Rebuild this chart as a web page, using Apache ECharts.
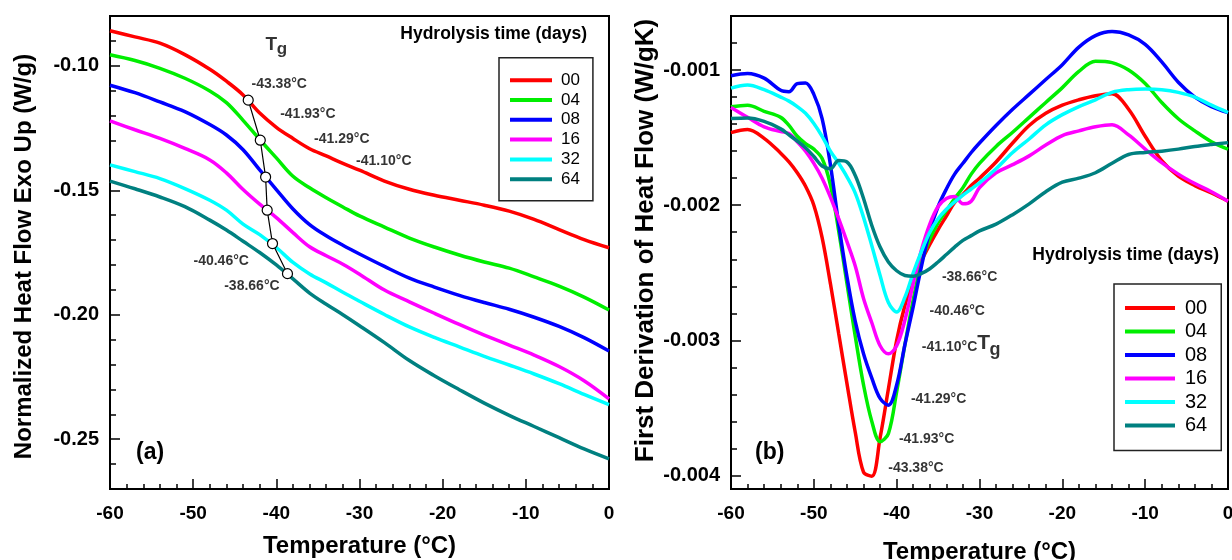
<!DOCTYPE html>
<html><head><meta charset="utf-8">
<script src="https://cdn.jsdelivr.net/npm/echarts@6/dist/echarts.min.js"></script>
<style>html,body{margin:0;padding:0;background:#fff}#c{width:1232px;height:560px}</style>
</head><body><div id="c"></div>
<script>
// ---------------- DATA ----------------
const seriesNames = ['00','04','08','16','32','64'];

// Panel (a): normalized heat flow (W/g)
const temps = [-60,-57,-54,-51,-48,-46,-44,-42,-40,-38,-36,-34,-32,-30,-27,-24,-21,-18,-15,-12,-9,-6,-3,0];
const heatFlow00 = [-0.0859,-0.0884,-0.0909,-0.0955,-0.1014,-0.1062,-0.1117,-0.1190,-0.1247,-0.1292,-0.1333,-0.1362,-0.1392,-0.1419,-0.1463,-0.1496,-0.1520,-0.1540,-0.1560,-0.1584,-0.1617,-0.1658,-0.1698,-0.1731];
const heatFlow04 = [-0.0956,-0.0979,-0.1010,-0.1050,-0.1101,-0.1148,-0.1219,-0.1296,-0.1370,-0.1444,-0.1490,-0.1530,-0.1567,-0.1603,-0.1648,-0.1692,-0.1728,-0.1760,-0.1788,-0.1813,-0.1848,-0.1885,-0.1929,-0.1981];
const heatFlow08 = [-0.1078,-0.1108,-0.1145,-0.1184,-0.1236,-0.1278,-0.1337,-0.1418,-0.1497,-0.1575,-0.1638,-0.1683,-0.1721,-0.1756,-0.1806,-0.1853,-0.1889,-0.1922,-0.1951,-0.1978,-0.2010,-0.2047,-0.2092,-0.2146];
const heatFlow16 = [-0.1221,-0.1257,-0.1292,-0.1332,-0.1378,-0.1430,-0.1497,-0.1556,-0.1610,-0.1670,-0.1727,-0.1763,-0.1797,-0.1837,-0.1901,-0.1948,-0.1994,-0.2039,-0.2082,-0.2122,-0.2162,-0.2208,-0.2265,-0.2338];
const heatFlow32 = [-0.1398,-0.1425,-0.1453,-0.1493,-0.1540,-0.1580,-0.1636,-0.1678,-0.1730,-0.1790,-0.1836,-0.1872,-0.1910,-0.1946,-0.1999,-0.2049,-0.2091,-0.2129,-0.2167,-0.2202,-0.2238,-0.2277,-0.2320,-0.2361];
const heatFlow64 = [-0.1463,-0.1494,-0.1527,-0.1566,-0.1620,-0.1660,-0.1705,-0.1750,-0.1800,-0.1856,-0.1913,-0.1958,-0.2000,-0.2044,-0.2112,-0.2184,-0.2245,-0.2301,-0.2355,-0.2404,-0.2449,-0.2494,-0.2539,-0.2579];

// Glass transition points (same order as seriesNames)
const tgTemps = [-43.38,-41.93,-41.29,-41.10,-40.46,-38.66];
const tgHeatFlow = [-0.1138,-0.1299,-0.1447,-0.1580,-0.1714,-0.1835];

// Panel (b): first derivative of heat flow (W/gK)
const derivTemps = [-60,-58,-56,-54,-53,-52,-51,-50,-49,-48,-47,-46,-45,-44,-43,-42,-41,-40,-39,-38,-37,-36,-35,-34,-33,-32,-31,-30,-28,-26,-24,-22,-20,-18,-16,-14,-12,-10,-8,-6,-4,-2,0];
const deriv00 = [-1.463e-3,-1.440e-3,-1.505e-3,-1.615e-3,-1.68e-3,-1.76e-3,-1.86e-3,-2.00e-3,-2.24e-3,-2.58e-3,-2.95e-3,-3.32e-3,-3.68e-3,-3.975e-3,-4.005e-3,-3.72e-3,-3.36e-3,-3.00e-3,-2.74e-3,-2.55e-3,-2.41e-3,-2.29e-3,-2.18e-3,-2.08e-3,-1.98e-3,-1.92e-3,-1.855e-3,-1.80e-3,-1.68e-3,-1.54e-3,-1.41e-3,-1.32e-3,-1.26e-3,-1.22e-3,-1.19e-3,-1.175e-3,-1.29e-3,-1.49e-3,-1.67e-3,-1.785e-3,-1.855e-3,-1.91e-3,-1.97e-3];
const deriv04 = [-1.272e-3,-1.26e-3,-1.305e-3,-1.35e-3,-1.41e-3,-1.49e-3,-1.545e-3,-1.585e-3,-1.655e-3,-1.85e-3,-2.19e-3,-2.58e-3,-2.97e-3,-3.33e-3,-3.60e-3,-3.75e-3,-3.69e-3,-3.38e-3,-3.03e-3,-2.70e-3,-2.42e-3,-2.25e-3,-2.13e-3,-2.04e-3,-1.95e-3,-1.87e-3,-1.77e-3,-1.69e-3,-1.565e-3,-1.46e-3,-1.35e-3,-1.24e-3,-1.13e-3,-1.01e-3,-0.935e-3,-0.945e-3,-1.00e-3,-1.10e-3,-1.24e-3,-1.36e-3,-1.45e-3,-1.53e-3,-1.586e-3];
const deriv08 = [-1.042e-3,-1.025e-3,-1.06e-3,-1.15e-3,-1.16e-3,-1.10e-3,-1.095e-3,-1.18e-3,-1.36e-3,-1.70e-3,-2.14e-3,-2.53e-3,-2.86e-3,-3.10e-3,-3.28e-3,-3.43e-3,-3.48e-3,-3.33e-3,-3.03e-3,-2.75e-3,-2.45e-3,-2.19e-3,-2.01e-3,-1.88e-3,-1.77e-3,-1.69e-3,-1.61e-3,-1.54e-3,-1.41e-3,-1.29e-3,-1.18e-3,-1.07e-3,-0.96e-3,-0.83e-3,-0.745e-3,-0.715e-3,-0.74e-3,-0.81e-3,-0.94e-3,-1.09e-3,-1.20e-3,-1.27e-3,-1.314e-3];
const deriv16 = [-1.277e-3,-1.35e-3,-1.42e-3,-1.455e-3,-1.47e-3,-1.53e-3,-1.60e-3,-1.69e-3,-1.80e-3,-1.94e-3,-2.10e-3,-2.27e-3,-2.45e-3,-2.69e-3,-2.87e-3,-3.04e-3,-3.10e-3,-3.04e-3,-2.85e-3,-2.58e-3,-2.33e-3,-2.14e-3,-2.01e-3,-1.95e-3,-1.935e-3,-1.99e-3,-1.97e-3,-1.87e-3,-1.76e-3,-1.70e-3,-1.635e-3,-1.555e-3,-1.485e-3,-1.45e-3,-1.42e-3,-1.405e-3,-1.48e-3,-1.585e-3,-1.685e-3,-1.77e-3,-1.84e-3,-1.90e-3,-1.97e-3];
const deriv32 = [-1.134e-3,-1.11e-3,-1.145e-3,-1.20e-3,-1.23e-3,-1.27e-3,-1.32e-3,-1.395e-3,-1.49e-3,-1.60e-3,-1.69e-3,-1.79e-3,-1.91e-3,-2.09e-3,-2.30e-3,-2.52e-3,-2.72e-3,-2.79e-3,-2.68e-3,-2.50e-3,-2.34e-3,-2.20e-3,-2.10e-3,-2.03e-3,-1.975e-3,-1.925e-3,-1.88e-3,-1.835e-3,-1.73e-3,-1.61e-3,-1.51e-3,-1.405e-3,-1.33e-3,-1.27e-3,-1.22e-3,-1.165e-3,-1.145e-3,-1.14e-3,-1.145e-3,-1.165e-3,-1.20e-3,-1.26e-3,-1.314e-3];
const deriv64 = [-1.359e-3,-1.355e-3,-1.38e-3,-1.435e-3,-1.48e-3,-1.525e-3,-1.575e-3,-1.64e-3,-1.71e-3,-1.73e-3,-1.67e-3,-1.68e-3,-1.78e-3,-1.95e-3,-2.15e-3,-2.31e-3,-2.42e-3,-2.485e-3,-2.52e-3,-2.525e-3,-2.505e-3,-2.47e-3,-2.42e-3,-2.365e-3,-2.31e-3,-2.26e-3,-2.225e-3,-2.19e-3,-2.14e-3,-2.07e-3,-1.99e-3,-1.90e-3,-1.83e-3,-1.80e-3,-1.76e-3,-1.69e-3,-1.625e-3,-1.61e-3,-1.60e-3,-1.585e-3,-1.565e-3,-1.55e-3,-1.537e-3];

// Tick labels
const heatFlowTicks = [-0.25,-0.20,-0.15,-0.10];
const derivTicks = [-0.004,-0.003,-0.002,-0.001];

// ---------------- LAYOUT / STYLE ----------------
const FONT = '"Liberation Sans", Arial, Helvetica, sans-serif';
const colors = ['#ff0000','#00ee00','#0000ff','#ff00ff','#00ffff','#008080'];
const heatFlowSets = [heatFlow00,heatFlow04,heatFlow08,heatFlow16,heatFlow32,heatFlow64];
const derivSets = [deriv00,deriv04,deriv08,deriv16,deriv32,deriv64];

// annotation anchors (data coordinates, text starts at the anchor)
const leftLabelAnchors = [[-42.99,-0.1074],[-39.54,-0.1194],[-35.46,-0.1295],[-30.41,-0.1382],[-49.96,-0.1784],[-46.27,-0.1885]];
const rightLabelAnchors = [[-41.02,-0.003945],[-39.73,-0.003734],[-38.28,-0.003437],[-36.96,-0.003051],[-36.04,-0.002787],[-34.54,-0.002535]];
const leftTgT = [-41.31,-0.0917], leftTgG = [-39.95,-0.0933];
const rightTgT = [-30.28,-0.003019], rightTgG = [-28.80,-0.003068];

const derivMinorTicks = [];
for (let k = 0; k <= 16; k++) derivMinorTicks.push(+(-0.004 + k * 0.0002).toFixed(4));

const black = '#000';
function xAxisDef(gridIndex, nameGap) {
  return {
    gridIndex, type:'value', min:-60, max:0, interval:10,
    axisLine:{show:true, onZero:false, lineStyle:{color:black,width:2}},
    axisTick:{show:true, inside:true, length:10, lineStyle:{color:black,width:1.5}},
    minorTick:{show:true, splitNumber:5, length:5, lineStyle:{color:black,width:1.5}},
    axisLabel:{fontSize:19, fontWeight:'bold', color:black, margin:15, fontFamily:FONT},
    splitLine:{show:false}, minorSplitLine:{show:false},
    name:'Temperature (°C)', nameLocation:'middle', nameGap,
    nameTextStyle:{fontSize:24, fontWeight:'bold', color:black, fontFamily:FONT}
  };
}
function hiddenX(gridIndex){ return {gridIndex, type:'value', min:-60, max:0, show:false}; }

const yAxes = [
  // 0: left panel minor ticks
  {gridIndex:0, type:'value', min:-0.27, max:-0.08, interval:0.01, position:'left',
   axisLine:{show:true, onZero:false, lineStyle:{color:black,width:2}},
   axisTick:{show:true, inside:true, length:6, lineStyle:{color:black,width:1.5}},
   axisLabel:{show:false}, splitLine:{show:false}},
  // 1: left panel major ticks + labels
  {gridIndex:1, type:'value', min:-0.27, max:-0.08, position:'left',
   axisLine:{show:false, onZero:false},
   axisTick:{show:true, inside:true, length:10, lineStyle:{color:black,width:1.5}, customValues:heatFlowTicks},
   axisLabel:{customValues:heatFlowTicks, formatter:v=>v.toFixed(2), fontSize:20, fontWeight:'bold', color:black, margin:11, fontFamily:FONT},
   splitLine:{show:false},
   name:'Normalized Heat Flow Exo Up (W/g)', nameLocation:'middle', nameGap:74,
   nameTextStyle:{fontSize:24, fontWeight:'bold', color:black, fontFamily:FONT, padding:[0,8,0,0]}},
  // 2: right panel minor ticks
  {gridIndex:2, type:'value', min:-0.0041, max:-0.0006, position:'left',
   axisLine:{show:true, onZero:false, lineStyle:{color:black,width:2}},
   axisTick:{show:true, inside:true, length:6, lineStyle:{color:black,width:1.5}, customValues:derivMinorTicks},
   axisLabel:{show:false}, splitLine:{show:false}},
  // 3: right panel major ticks + labels
  {gridIndex:3, type:'value', min:-0.0041, max:-0.0006, position:'left',
   axisLine:{show:false, onZero:false},
   axisTick:{show:true, inside:true, length:10, lineStyle:{color:black,width:1.5}, customValues:derivTicks},
   axisLabel:{customValues:derivTicks, formatter:v=>v.toFixed(3), fontSize:20, fontWeight:'bold', color:black, margin:11, fontFamily:FONT},
   splitLine:{show:false},
   name:'First Derivation of Heat Flow (W/gK)', nameLocation:'middle', nameGap:72,
   nameTextStyle:{fontSize:26, fontWeight:'bold', color:black, fontFamily:FONT, padding:[0,0,0,24]}}
];

const series = [];
seriesNames.forEach((n,i) => {
  series.push({type:'line', name:n, xAxisIndex:0, yAxisIndex:0, smooth:0.35, symbol:'none',
    data: temps.map((t,j)=>[t, heatFlowSets[i][j]]),
    lineStyle:{width:3.5, color:colors[i]}, itemStyle:{color:colors[i]}, z:2, silent:true});
});
seriesNames.forEach((n,i) => {
  series.push({type:'line', name:n, xAxisIndex:2, yAxisIndex:2, smooth:0.35, symbol:'none',
    data: derivTemps.map((t,j)=>[t, derivSets[i][j]]),
    lineStyle:{width:3.5, color:colors[i]}, itemStyle:{color:colors[i]}, z:2, silent:true});
});
// Tg marker line (panel a)
series.push({type:'line', xAxisIndex:0, yAxisIndex:0, z:5, silent:true,
  data: tgTemps.map((t,i)=>[t, tgHeatFlow[i]]),
  symbol:'circle', symbolSize:10, lineStyle:{color:black, width:1.2},
  itemStyle:{color:'#fff', borderColor:black, borderWidth:1.2}});

function fmtTg(t){ return t.toFixed(2) + '°C'; }
function textSeries(xi, yi, items) {
  return {type:'scatter', xAxisIndex:xi, yAxisIndex:yi, symbolSize:0.001, z:6, silent:true,
    itemStyle:{color:'rgba(0,0,0,0)'},
    data: items.map(it => ({name:it.text, value:it.pos,
      label:{show:true, position:'right', distance:0, formatter:'{b}', color:black,
             fontSize:it.size, fontWeight:'bold', fontFamily:FONT}}))};
}
series.push(textSeries(0,0, tgTemps.map((t,i)=>({text:fmtTg(t), pos:leftLabelAnchors[i], size:14}))
  .concat([{text:'T', pos:leftTgT, size:19},{text:'g', pos:leftTgG, size:17}])));
series.push(textSeries(2,2, tgTemps.map((t,i)=>({text:fmtTg(t), pos:rightLabelAnchors[i], size:14}))
  .concat([{text:'T', pos:rightTgT, size:21},{text:'g', pos:rightTgG, size:18}])));

const titleText = (text, pos, size) => Object.assign({text, padding:0,
  textStyle:{fontSize:size, lineHeight:size, fontWeight:'bold', color:black, fontFamily:FONT}}, pos);

const gridBase = {top:16, height:473, outerBoundsMode:'none', containLabel:false};
const option = {
  animation:false,
  backgroundColor:'#fff',
  grid:[
    Object.assign({left:110, width:499, show:true, borderColor:black, borderWidth:2, backgroundColor:'transparent'}, gridBase),
    Object.assign({left:110, width:499, show:false}, gridBase),
    Object.assign({left:731, width:497, show:true, borderColor:black, borderWidth:2, backgroundColor:'transparent'}, gridBase),
    Object.assign({left:731, width:497, show:false}, gridBase)
  ],
  xAxis:[xAxisDef(0,45), hiddenX(1), xAxisDef(2,51), hiddenX(3)],
  yAxis:yAxes,
  title:[
    titleText('Hydrolysis time (days)', {right:645, top:25.5}, 17.5),
    titleText('Hydrolysis time (days)', {right:13, top:246}, 17.5),
    titleText('(a)', {left:136, top:441.5}, 23),
    titleText('(b)', {left:755, top:441.5}, 23)
  ],
  legend:[
    {data:seriesNames, orient:'vertical', left:499, top:57.7, padding:[14,13,13,11],
     itemWidth:42, itemHeight:4, itemGap:2.8, icon:'rect', selectedMode:false,
     borderColor:'#222', borderWidth:1.5,
     textStyle:{fontSize:17, lineHeight:17, color:black, fontFamily:FONT, padding:[0,0,0,4]}},
    {data:seriesNames, orient:'vertical', left:1114, top:284, padding:[14,14,15,11],
     itemWidth:50, itemHeight:4, itemGap:3.5, icon:'rect', selectedMode:false,
     borderColor:'#222', borderWidth:1.5,
     textStyle:{fontSize:20, lineHeight:20, color:black, fontFamily:FONT, padding:[0,0,0,5]}}
  ],
  series
};
const chart = echarts.init(document.getElementById('c'));
chart.setOption(option);
</script>
</body></html>
